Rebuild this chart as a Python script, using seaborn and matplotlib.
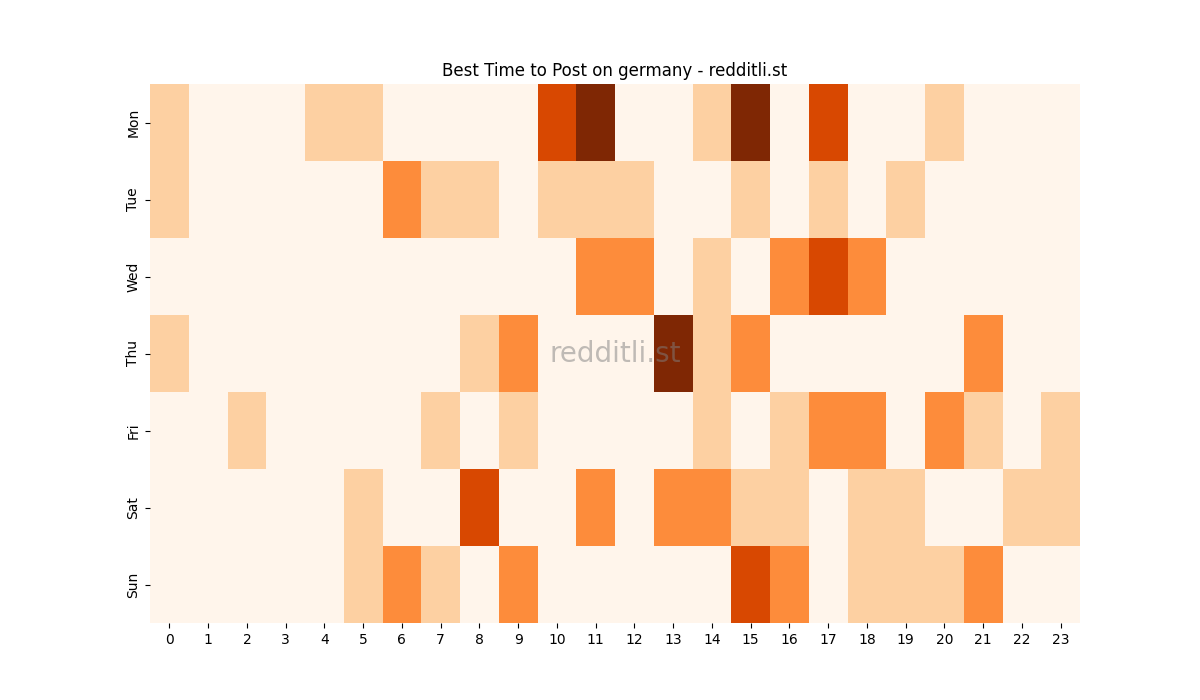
import matplotlib
matplotlib.use("Agg")
import matplotlib.pyplot as plt
import seaborn as sns
import pandas as pd

days = ["Mon", "Tue", "Wed", "Thu", "Fri", "Sat", "Sun"]
hours = list(range(24))
mon = [1,0,0,0,1,1,0,0,0,0,3,4,0,0,1,4,0,3,0,0,1,0,0,0]
tue = [1,0,0,0,0,0,2,1,1,0,1,1,1,0,0,1,0,1,0,1,0,0,0,0]
wed = [0,0,0,0,0,0,0,0,0,0,0,2,2,0,1,0,2,3,2,0,0,0,0,0]
thu = [1,0,0,0,0,0,0,0,1,2,0,0,0,4,1,2,0,0,0,0,0,2,0,0]
fri = [0,0,1,0,0,0,0,1,0,1,0,0,0,0,1,0,1,2,2,0,2,1,0,1]
sat = [0,0,0,0,0,1,0,0,3,0,0,2,0,2,2,1,1,0,1,1,0,0,1,1]
sun = [0,0,0,0,0,1,2,1,0,2,0,0,0,0,0,3,2,0,1,1,1,2,0,0]

df = pd.DataFrame([mon, tue, wed, thu, fri, sat, sun], index=days, columns=hours)

fig, ax = plt.subplots(figsize=(12, 7), dpi=100)
sns.heatmap(df, cmap="Oranges", vmin=0, vmax=4, cbar=False, ax=ax)
ax.set_title("Best Time to Post on germany - redditli.st")
ax.set_yticklabels(days, rotation=90, va="center")
ax.set_xticklabels(hours, rotation=0)
ax.text(0.5, 0.5, "redditli.st", transform=ax.transAxes, ha="center", va="center",
        fontsize=20, color="grey", alpha=0.5)
fig.savefig("out.png")
